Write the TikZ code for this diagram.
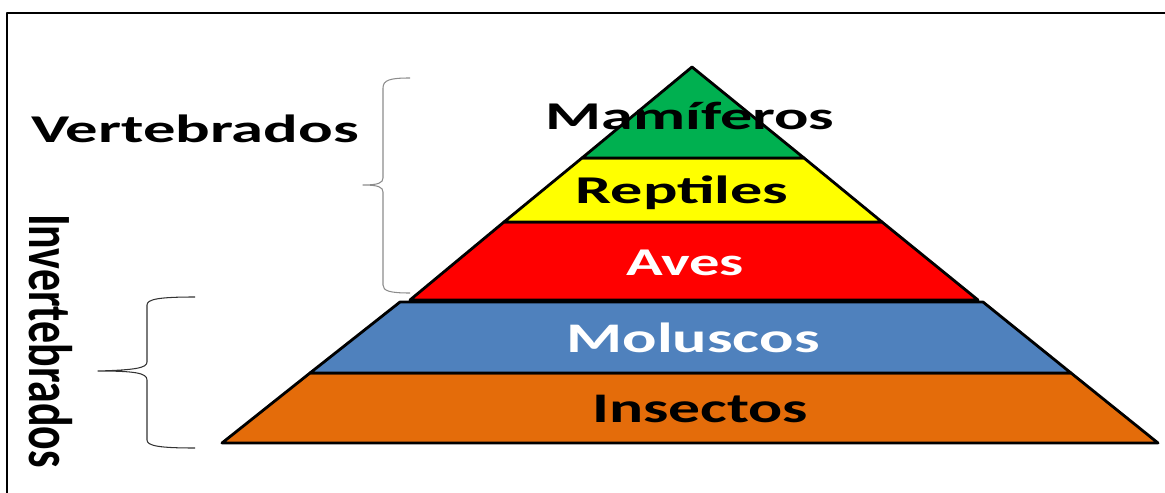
\documentclass[tikz,border=0pt]{standalone}
\usepackage{fontspec}
\setmainfont{Carlito}
\usepackage{graphicx}
\definecolor{mamgreen}{RGB}{0,176,80}
\definecolor{repyellow}{RGB}{255,255,0}
\definecolor{avered}{RGB}{255,0,0}
\definecolor{molblue}{RGB}{79,129,189}
\definecolor{insorange}{RGB}{228,108,10}
\newcommand{\wlabel}[2]{\resizebox{#1}{\height}{#2}}
\begin{document}
\begin{tikzpicture}[x=0.02cm, y=-0.02cm, line join=round,
  every node/.style={inner sep=0pt, anchor=base},
  lbl/.style={font=\fontsize{22.4}{27}\selectfont\bfseries},
  lblbig/.style={font=\fontsize{24}{29}\selectfont\bfseries},
  layer/.style={draw=black, line width=1.6pt},
  brace/.style={line width=0.6pt}]
  \useasboundingbox (0,0) rectangle (1165,493);
  \draw[line width=1.5pt] (7,493) -- (7,13) -- (1165,13);
  % braces
  \coordinate (vt) at (410,78); \coordinate (vm) at (363,185); \coordinate (vb) at (410,293);
  \coordinate (it) at (195,297); \coordinate (im) at (98,371); \coordinate (ib) at (195,448);
  \draw[brace, black!45] (vt) .. controls (390,78) and (383,80) .. (383,88) -- (383,178)
    .. controls (383,183) and (378,185) .. (vm) .. controls (378,185) and (383,187) .. (383,192)
    -- (383,285) .. controls (383,291) and (390,293) .. (vb);
  \draw[brace, black!80] (it) .. controls (160,297) and (147,299) .. (147,305) -- (147,362)
    .. controls (147,368) and (135,370) .. (im) .. controls (135,371) and (147,373) .. (147,380)
    -- (147,440) .. controls (147,446) and (160,448) .. (ib);
  % upper part
  \coordinate (T) at (692,67);
  \coordinate (G1) at (582,158); \coordinate (G2) at (804,158);
  \coordinate (Y1) at (504,222); \coordinate (Y2) at (882,222);
  \coordinate (R1) at (410,300); \coordinate (R2) at (978,300);
  % lower part
  \coordinate (M1) at (400,302); \coordinate (M2) at (983,302);
  \coordinate (I1) at (310,373); \coordinate (I2) at (1071,373);
  \coordinate (B1) at (222,443); \coordinate (B2) at (1158,443);
  \filldraw[layer, fill=insorange] (I1)--(I2)--(B2)--(B1)--cycle;
  \filldraw[layer, fill=molblue] (M1)--(M2)--(I2)--(I1)--cycle;
  \filldraw[layer, fill=avered] (Y1)--(Y2)--(R2)--(R1)--cycle;
  \filldraw[layer, fill=repyellow] (G1)--(G2)--(Y2)--(Y1)--cycle;
  \filldraw[layer, fill=mamgreen] (T)--(G2)--(G1)--cycle;
  % labels
  \node[lbl] (mam) at (690,130) {\wlabel{5.78cm}{Mamíferos}};
  \node[lbl] (rep) at (682,203) {\wlabel{4.26cm}{Reptiles}};
  \node[lbl, white] (ave) at (685,275) {\wlabel{2.36cm}{Aves}};
  \node[lblbig, white] (mol) at (693,352) {\wlabel{5.06cm}{Moluscos}};
  \node[lblbig] (ins) at (700,422) {\wlabel{4.32cm}{Insectos}};
  \node[lbl] (vert) at (195,143) {\wlabel{6.56cm}{Vertebrados}};
  \node[lblbig, rotate=-90] (invert) at (30,341) {\scalebox{1.04}[1.46]{Invertebrados}};
\end{tikzpicture}
\end{document}
